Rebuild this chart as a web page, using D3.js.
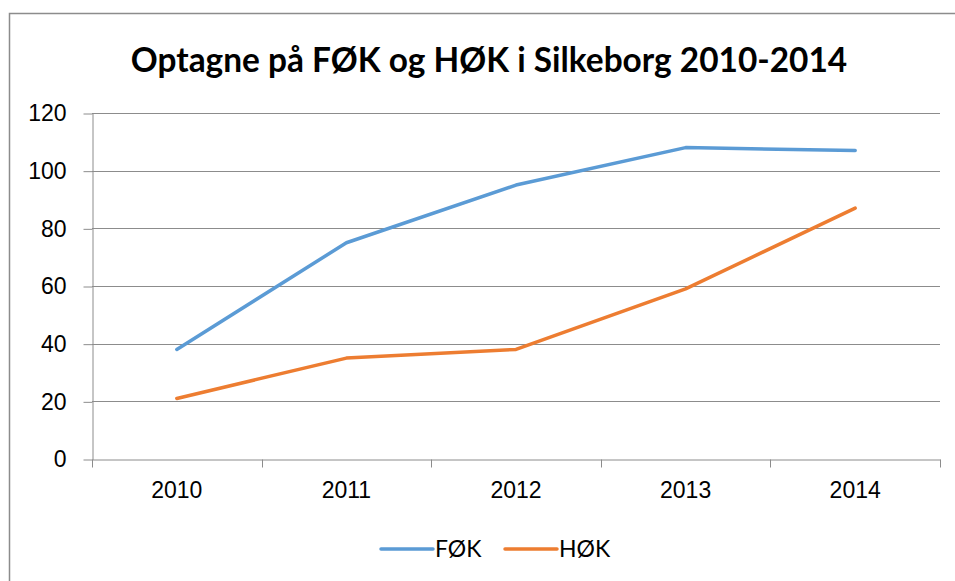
<!DOCTYPE html>
<html>
<head>
<meta charset="utf-8">
<script src="https://cdn.jsdelivr.net/npm/d3@7"></script>
<style>
  body { margin: 0; background: #fff; }
  svg { font-family: Lato, "Open Sans", sans-serif; }
  .grid line { stroke: #8c8c8c; stroke-width: 1px; }
  .axis path, .axis line { stroke: #8c8c8c; }
  .axis text { fill: #000; font-size: 23px; }
  .line { fill: none; stroke-width: 3.5px; stroke-linejoin: round; stroke-linecap: round; }
</style>
</head>
<body>
<svg></svg>
<script>
var width = 955;
var height = 581;

var years = ["2010", "2011", "2012", "2013", "2014"];
var seriesNames = ["FØK", "HØK"];
var fok = [38, 75, 95, 108, 107];
var hok = [21, 35, 38, 59, 87];
var yTicks = [0, 20, 40, 60, 80, 100, 120];
var colors = ["#5b9bd5", "#ed7d31"];

var margin = { left: 92, right: 15, top: 113, bottom: 122 };

var svg = d3.select("svg")
    .attr("width", width)
    .attr("height", height);

// chart border
svg.append("rect")
    .attr("x", 9.5).attr("y", 13.5)
    .attr("width", width).attr("height", height)
    .attr("fill", "none")
    .attr("stroke", "#8c8c8c")
    .attr("stroke-width", 1.5);

svg.append("text")
    .attr("x", 489).attr("y", 72)
    .attr("text-anchor", "middle")
    .attr("font-weight", "bold")
    .attr("font-size", "33.4px")
    .text("Optagne på FØK og HØK i Silkeborg 2010-2014");

var x = d3.scaleBand()
    .domain(years)
    .range([margin.left, width - margin.right]);

var y = d3.scaleLinear()
    .domain([0, 120])
    .range([height - margin.bottom, margin.top]);

// gridlines
svg.append("g").attr("class", "grid")
    .selectAll("line")
    .data(yTicks.slice(1))
  .enter().append("line")
    .attr("x1", margin.left).attr("x2", width - margin.right)
    .attr("y1", function(d) { return Math.round(y(d)) + 0.5; })
    .attr("y2", function(d) { return Math.round(y(d)) + 0.5; });

// y axis
var yAxis = svg.append("g").attr("class", "axis")
    .attr("transform", "translate(" + (margin.left + 0.5) + ",0.5)")
    .call(d3.axisLeft(y).tickValues(yTicks).tickSize(9).tickSizeOuter(0).tickPadding(17));

// x axis
var xAxis = svg.append("g").attr("class", "axis")
    .attr("transform", "translate(0," + (Math.round(y(0)) + 0.5) + ")")
    .call(d3.axisBottom(x).tickSize(0).tickPadding(22));

xAxis.selectAll(".tickmark")
    .data(d3.range(years.length + 1))
  .enter().append("line")
    .attr("class", "tickmark")
    .attr("x1", function(i) { return Math.round(margin.left + i * x.step()) + 0.5; })
    .attr("x2", function(i) { return Math.round(margin.left + i * x.step()) + 0.5; })
    .attr("y1", 0).attr("y2", 8);

var line = d3.line()
    .x(function(d, i) { return x(years[i]) + x.bandwidth() / 2; })
    .y(function(d) { return y(d); });

var data = [fok, hok];

svg.selectAll(".line")
    .data(data)
  .enter().append("path")
    .attr("class", "line")
    .attr("stroke", function(d, i) { return colors[i]; })
    .attr("d", line);

// legend
var legend = svg.append("g").selectAll("g")
    .data(seriesNames)
  .enter().append("g")
    .attr("transform", function(d, i) { return "translate(" + (381 + i * 124) + ",549)"; });

legend.append("line")
    .attr("x1", 0).attr("x2", 52)
    .attr("stroke", function(d, i) { return colors[i]; })
    .attr("stroke-width", 3.5)
    .attr("stroke-linecap", "round");

legend.append("text")
    .attr("x", 54).attr("y", 8)
    .attr("font-size", "23px")
    .text(function(d) { return d; });
</script>
</body>
</html>
